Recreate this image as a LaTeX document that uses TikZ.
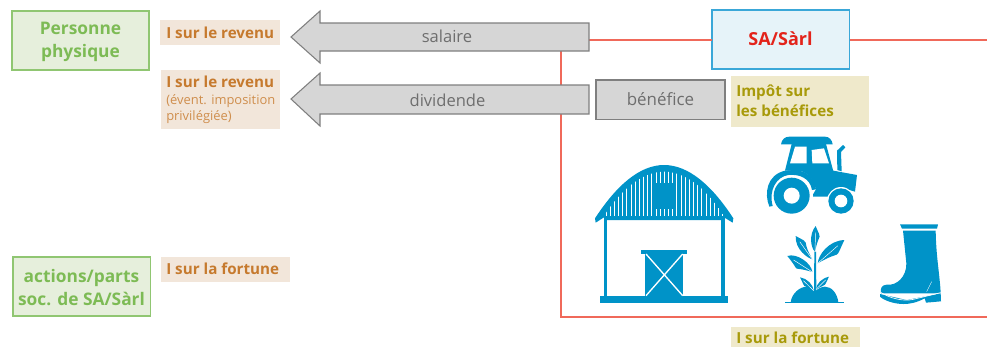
\documentclass[tikz,border=0pt]{standalone}
\usepackage{fontspec}
\setmainfont{Open Sans}
\definecolor{gfill}{HTML}{E6EFDC}
\definecolor{gline}{HTML}{90C672}
\definecolor{gtext}{HTML}{7DBB55}
\definecolor{tanfill}{HTML}{F2E6DA}
\definecolor{tantext}{HTML}{C67A2E}
\definecolor{yfill}{HTML}{EFE9CB}
\definecolor{ytext}{HTML}{A89A0A}
\definecolor{iconblue}{HTML}{0093C8}
\definecolor{safill}{HTML}{E6F3F9}
\definecolor{saline}{HTML}{3AA7D8}
\definecolor{satext}{HTML}{E3231B}
\definecolor{redline}{HTML}{F0695A}
\definecolor{greyfill}{HTML}{D6D6D6}
\definecolor{greyline}{HTML}{7F7F7F}
\definecolor{greytext}{HTML}{6E6E6E}
\tikzset{
  pbox/.style={inner sep=0pt,outer sep=0pt,anchor=north west},
  greenbox/.style={draw=gline,fill=gfill,line width=1.2pt},
  tanbox/.style={fill=tanfill},
  yelbox/.style={fill=yfill},
  greybox/.style={draw=greyline,fill=greyfill,line width=1pt},
  arrowshape/.style={draw=greyline,fill=greyfill,line width=.8pt},
  redconn/.style={draw=redline,line width=1pt},
  greenlabel/.style={text=gtext,font=\fontsize{13}{17.2}\selectfont\bfseries,align=center,inner sep=0pt},
  taxlabel/.style={font=\fontsize{11.4}{14.8}\selectfont\bfseries,anchor=west,inner sep=0pt,align=left},
  greylabel/.style={text=greytext,font=\fontsize{12.4}{14}\selectfont,inner sep=0pt},
  icon/.style={fill=iconblue,draw=none},
  iconcut/.style={fill=white,draw=none},
}
\begin{document}
\begin{tikzpicture}[x=.75pt,y=-.75pt]
\useasboundingbox (0,0) rectangle (987,347);
% green boxes
\path[greenbox] (12,11) rectangle (149,70);
\node[greenlabel] (pers) at (80.5,41.5) {Personne\\physique};
\path[greenbox] (13,257) rectangle (150.5,316);
\node[greenlabel] (act) at (81.5,287.5) {actions/parts\\[-.5pt]soc. de SA/Sàrl};
% tan boxes
\fill[tanbox] (160,20) rectangle (280,45);
\node[taxlabel,text=tantext] (t1) at (166,32.5) {I sur le revenu};
\fill[tanbox] (161,70) rectangle (280,129);
\node[taxlabel,text=tantext] (t2) at (166,81.5) {I sur le revenu};
\node[anchor=north west,inner sep=0pt,align=left,text=tantext!85!white,font=\fontsize{9.7}{12.6}\selectfont] (t2b) at (166,94) {(évent. imposition\\privilégiée)};
\fill[tanbox] (161,257) rectangle (290,282);
\node[taxlabel,text=tantext] (t3) at (166,269) {I sur la fortune};
% red lines
\coordinate (rEnd1) at (987,40);
\coordinate (aEnd1) at (589,40);
\coordinate (v0) at (561,51);
\coordinate (v1) at (561,85);
\coordinate (v2) at (561,114);
\coordinate (v3) at (561,317);
\coordinate (rEnd2) at (987,317);
\node[pbox,draw=saline,fill=safill,line width=1pt,minimum width=137.5*.75pt,minimum height=59*.75pt] (sa) at (712,10) {};
\node[text=satext,font=\fontsize{13.5}{14}\selectfont\bfseries,inner sep=0pt] (satxt) at (780.5,39) {SA/Sàrl};
\draw[redconn] (aEnd1) -- (aEnd1 -| sa.west);
\draw[redconn] (rEnd1 -| sa.east) -- (rEnd1);
\draw[redconn] (v0) -- (v1);
\draw[redconn] (v2) -- (v3) -- (rEnd2);
% arrows
\path[arrowshape] (589,23) -- (320,23) -- (320,11) -- (291,37) -- (320,63) -- (320,51) -- (589,51) -- cycle;
\node[greylabel] (sal) at (447,36) {salaire};
\path[arrowshape] (589,85) -- (320,85) -- (320,73) -- (291,99) -- (320,126) -- (320,114) -- (589,114) -- cycle;
\node[greylabel] (div) at (447.5,100) {dividende};
% benefice
\path[greybox] (596,80) rectangle (725,119.5);
\node[greylabel,font=\fontsize{12.7}{14}\selectfont] (ben) at (660.5,99) {bénéfice};
\fill[yelbox] (731,76) rectangle (869,127);
\node[taxlabel,text=ytext] (imp) at (736,101) {Impôt sur\\les bénéfices};
\fill[yelbox] (731,327) rectangle (860,347);
\node[taxlabel,text=ytext] (t4) at (736,338) {I sur la fortune};
% barn
\begin{scope}[shift={(580,130)},x=.25pt,y=-.25pt]
 \fill[icon] (45,265) .. controls (110,165) and (180,105) .. (252,105) .. controls (325,105) and (395,165) .. (460,265) -- (458,278) -- (432,262) -- (432,270) -- (72,270) -- (72,262) -- (47,278) -- cycle;
 \begin{scope}
  \clip (72,258) .. controls (125,175) and (190,125) .. (252,125) .. controls (315,125) and (380,175) .. (432,258) -- cycle;
  \foreach \xx in {78,90.5,...,430}{\fill[white] (\xx-1.5,120) rectangle (\xx+1.5,258);}
  \fill[icon] (221,158) rectangle (286,236);
 \end{scope}
 \fill[icon] (72,262) rectangle (82,500);
 \fill[icon] (423,262) rectangle (435,500);
 \fill[icon] (60,497) rectangle (445,520);
 \fill[icon] (183,360) rectangle (321,372);
 \fill[icon] (196,372) rectangle (310,497);
 \draw[white,line width=1pt] (198,372) -- (308,497);
 \draw[white,line width=1pt] (308,372) -- (198,497);
\end{scope}
% tractor, plant, boot
\begin{scope}[shift={(750,130)},x=.25pt,y=-.25pt]
 % tractor
 \fill[icon] (93,43) .. controls (95,28) and (105,20) .. (118,20) -- (225,20) .. controls (238,20) and (246,30) .. (248,43) -- cycle;
 \fill[icon] (125,42) -- (105,122) -- (250,124) -- (228,42) -- cycle;
 \fill[iconcut] (135,50) -- (170,50) -- (170,100) -- (120,100) -- cycle;
 \fill[iconcut] (185,60) -- (222,55) -- (237,100) -- (187,100) -- cycle;
 \fill[icon] (262,120) -- (261,62) -- (279,45) -- (286,52) -- (273,66) -- (275,124) -- cycle;
 \fill[icon] (105,122) -- (250,122) -- (321,135) -- (315,185) -- (270,172) -- (235,200) -- (185,200) -- (198,178) .. controls (190,145) and (170,122) .. (135,120) -- cycle;
 \fill[iconcut] (125,197) circle (64*.25pt);
 \fill[icon] (58,230) .. controls (42,190) and (50,135) .. (105,122) -- (135,120) .. controls (170,122) and (195,145) .. (198,178) -- (186,180) .. controls (180,145) and (150,132) .. (115,135) .. controls (80,140) and (55,180) .. (68,228) -- cycle;
 \fill[iconcut] (273,213) circle (42*.25pt);
 \fill[icon] (125,197) circle (54*.25pt);
 \fill[iconcut] (125,197) circle (24*.25pt);
 \fill[icon] (273,213) circle (38*.25pt);
 \fill[iconcut] (273,213) circle (19*.25pt);
 % plant
 \fill[icon] (122,517) .. controls (125,490) and (150,470) .. (170,470) .. controls (180,470) and (190,478) .. (195,484) .. controls (205,475) and (215,470) .. (225,470) .. controls (245,470) and (262,490) .. (265,517) -- cycle;
 \fill[icon] (105,517) rectangle (282,520);
 \fill[icon] (192,484) -- (193,365) -- (198,365) -- (199,484) -- cycle;
 \foreach \tx/\ty/\bx/\by/\ca/\cb/\cc/\cd in {
   197/288/195/365/175/315/183/355,
   137/318/187/388/135/360/175/385,
   283/330/203/400/235/332/205/375,
   112/378/187/426/140/368/185/400,
   150/442/191/482/172/445/190/465,
   237/440/198/478/215/445/200/460}{
  \pgfmathsetmacro{\ea}{\tx+\bx-\cc}
  \pgfmathsetmacro{\eb}{\ty+\by-\cd}
  \pgfmathsetmacro{\ec}{\tx+\bx-\ca}
  \pgfmathsetmacro{\ed}{\ty+\by-\cb}
  \fill[icon] (\tx,\ty) .. controls (\ca,\cb) and (\cc,\cd) .. (\bx,\by) .. controls (\ea,\eb) and (\ec,\ed) .. (\tx,\ty) -- cycle;
  \draw[white,line width=.35pt] (\tx*.75+\bx*.25,\ty*.75+\by*.25) -- (\bx,\by);
 }
 % boot
 \fill[icon] (450,283) -- (564,283) -- (561,296) -- (456,296) -- cycle;
 \fill[icon] (459,302) -- (557,302) .. controls (558,380) and (570,440) .. (572,490) -- (400,490) -- (393,490) .. controls (390,475) and (395,465) .. (410,464) .. controls (440,468) and (470,440) .. (469,400) -- cycle;
 \fill[icon] (390,492) -- (470,510) -- (572,490) -- (573,514) -- (528,518) -- (524,505) .. controls (500,518) and (480,522) .. (460,522) .. controls (430,522) and (400,510) .. (390,500) -- cycle;
 \draw[white,line width=.5pt] (392,487) .. controls (420,505) and (460,515) .. (490,508) -- (572,488);
 \draw[white,line width=.3pt] (530,485) -- (545,455);
\end{scope}
\end{tikzpicture}
\end{document}
